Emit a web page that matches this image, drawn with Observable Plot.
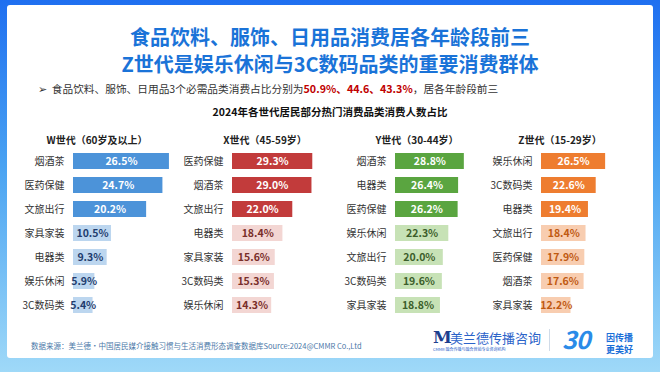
<!DOCTYPE html>
<html><head><meta charset="utf-8">
<script src="https://cdn.jsdelivr.net/npm/d3@7"></script>
<script src="https://cdn.jsdelivr.net/npm/@observablehq/plot@0.6"></script>
<style>
html,body{margin:0;padding:0;}
body{width:660px;height:372px;overflow:hidden;font-family:"Noto Sans CJK SC","Noto Sans",sans-serif;}
#wrap{position:relative;width:660px;height:372px;background:linear-gradient(180deg,#1f6ff0 0%,#4aa3f2 45%,#9fd9f8 100%);}
#card{position:absolute;left:7px;top:5px;width:646px;height:353px;background:#fff;border-radius:3px;}
.abs{position:absolute;white-space:nowrap;}
.title{left:0;width:660px;text-align:center;color:#1a73d8;font-weight:bold;font-size:20px;line-height:22px;}
.ptitle{font-weight:bold;font-size:10px;color:#222;transform:translateX(-50%);}
</style></head>
<body><div id="wrap"><div id="card"></div>
<div class="abs title" style="top:26px">食品饮料、服饰、日用品消费居各年龄段前三</div>
<div class="abs title" style="top:53px">Z世代是娱乐休闲与3C数码品类的重要消费群体</div>
<div class="abs" style="left:38px;top:81px;font-size:10.7px;color:#333;">➢&nbsp;&nbsp;食品饮料、服饰、日用品3个必需品类消费占比分别为<span style="color:#c00000;font-weight:bold">50.9%、44.6、43.3%</span>，居各年龄段前三</div>
<div class="abs" style="left:0;width:660px;text-align:center;top:104px;font-size:10.5px;font-weight:bold;color:#111;">2024年各世代居民部分热门消费品类消费人数占比</div>
<div class="abs" style="left:31px;top:340px;font-size:7.5px;color:#4b78a8;">数据来源：美兰德•中国居民媒介接触习惯与生活消费形态调查数据库Source:2024@CMMR Co.,Ltd</div>
<div class="abs" style="left:433px;top:327px;font-size:17px;font-weight:bold;color:#1d3f8f;font-family:'DejaVu Serif',serif;">M</div>
<div class="abs" style="left:450px;top:328px;font-size:13px;color:#2b63c9;">美兰德传播咨询</div>
<div class="abs" style="left:433px;top:346px;font-size:4px;color:#2b63c9;">CMMR 融合传播与融合营销专业咨询机构</div>
<div class="abs" style="left:549px;top:329px;width:1px;height:22px;background:#d0dbe8;"></div>
<div class="abs" style="left:562px;top:320px;font-size:25px;font-weight:bold;color:#2a8be8;font-style:italic;letter-spacing:-1px;">30</div>
<div class="abs" style="left:606px;top:332px;font-size:9px;font-weight:bold;color:#1a6fd8;line-height:12px;">因传播<br>更美好</div>
</div>
<script>
const wCats = ["烟酒茶","医药保健","文旅出行","家具家装","电器类","娱乐休闲","3C数码类"];
const wVals = [26.5,24.7,20.2,10.5,9.3,5.9,5.4];
const xCats = ["医药保健","烟酒茶","文旅出行","电器类","家具家装","3C数码类","娱乐休闲"];
const xVals = [29.3,29.0,22.0,18.4,15.6,15.3,14.3];
const yCats = ["烟酒茶","电器类","医药保健","娱乐休闲","文旅出行","3C数码类","家具家装"];
const yVals = [28.8,26.4,26.2,22.3,20.0,19.6,18.8];
const zCats = ["娱乐休闲","3C数码类","电器类","文旅出行","医药保健","烟酒茶","家具家装"];
const zVals = [26.5,22.6,19.4,18.4,17.9,17.6,12.2];
const panelTitles = ["W世代（60岁及以上）","X世代（45-59岁）","Y世代（30-44岁）","Z世代（15-29岁）"];

const panels = [
  {cats:wCats, vals:wVals, title:panelTitles[0], start:73, ppu:3.62, dark:"#4c93d9", light:"#bcd6ef", lightText:"#1f3d6e", tx:97},
  {cats:xCats, vals:xVals, title:panelTitles[1], start:232, ppu:2.74, dark:"#c23b3b", light:"#f3d6d3", lightText:"#7a2e2a", tx:265},
  {cats:yCats, vals:yVals, title:panelTitles[2], start:395, ppu:2.39, dark:"#5aa540", light:"#c7e2b6", lightText:"#3c5e2b", tx:417},
  {cats:zCats, vals:zVals, title:panelTitles[3], start:541, ppu:2.42, dark:"#ee7d30", light:"#f8cdb0", lightText:"#c05a12", tx:560}
];
const wrap = document.getElementById("wrap");
const ML = 80, BW = 100, MT = 10, MB = 10, RANGE = 181.5;
panels.forEach(p => {
  const data = p.cats.map((c,i)=>({c, v:p.vals[i], top: i<3}));
  const chart = Plot.plot({
    width: ML + BW, height: RANGE + MT + MB,
    marginLeft: ML, marginRight: 0, marginTop: MT, marginBottom: MB,
    style:{fontFamily:'"Noto Sans CJK SC",sans-serif', color:"#333", background:"transparent", overflow:"visible"},
    x:{domain:[0, BW/p.ppu], axis:null},
    y:{domain:p.cats, padding:0.35, label:null},
    marks:[
      Plot.barX(data, {x:"v", y:"c", fill:d=>d.top?p.dark:p.light}),
      Plot.axisY({tickSize:0, tickPadding:9, fontSize:10, label:null}),
      Plot.text(data, {x:d=>d.v/2, y:"c", text:d=>d.v.toFixed(1)+"%", fill:d=>d.top?"#ffffff":p.lightText, fontWeight:"bold", fontSize:10.5})
    ]
  });
  chart.style.position="absolute";
  chart.style.left=(p.start-ML)+"px";
  chart.style.top=(141.7-MT)+"px";
  wrap.appendChild(chart);
  const t=document.createElement("div");
  t.className="abs ptitle"; t.textContent=p.title;
  t.style.left=p.tx+"px"; t.style.top="132px";
  wrap.appendChild(t);
});
</script>
</body></html>
